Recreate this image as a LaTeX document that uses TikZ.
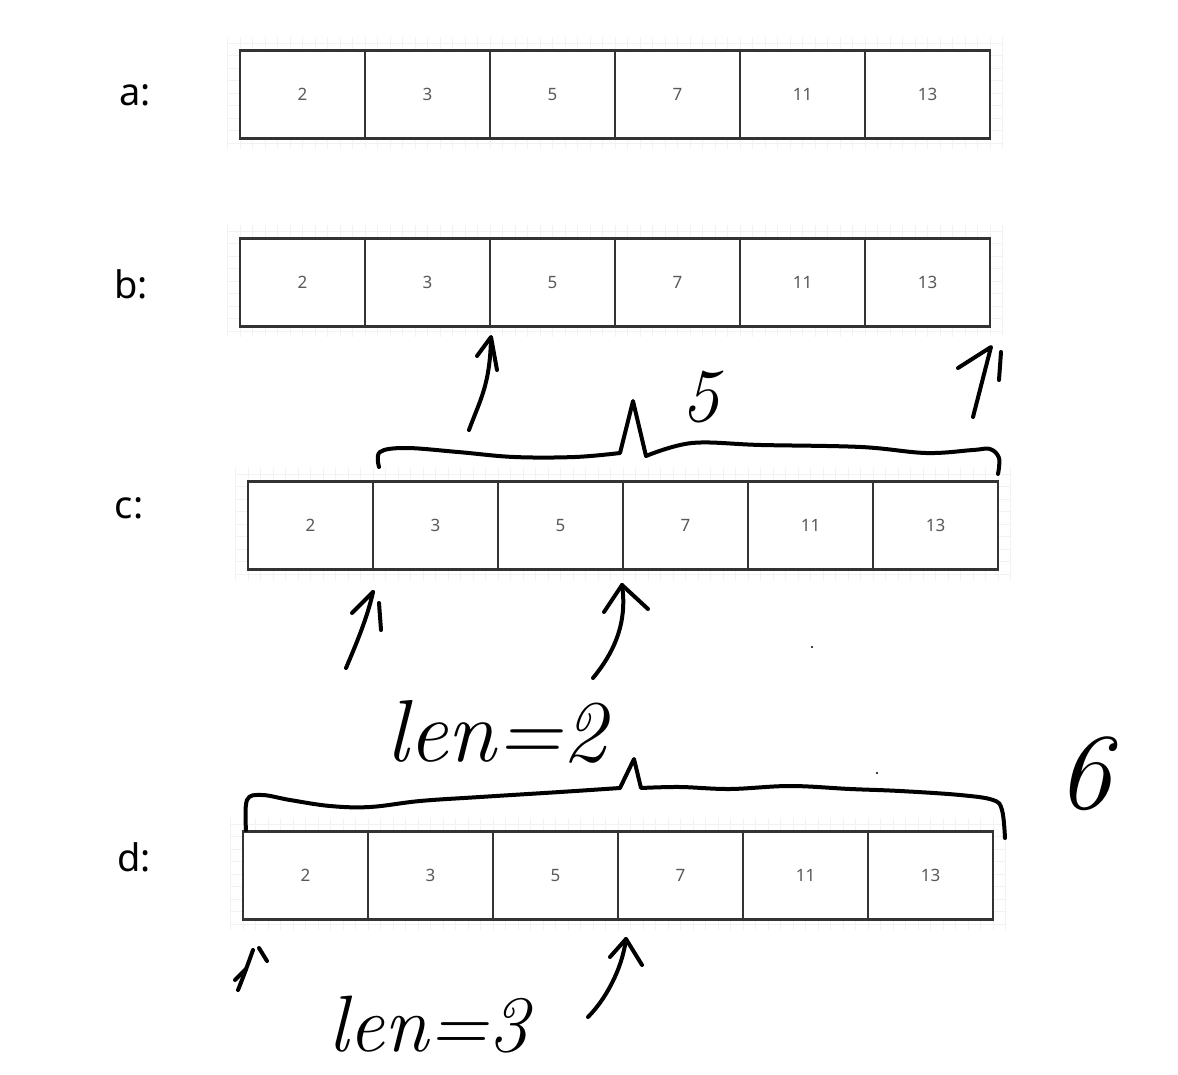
\documentclass[tikz,border=0pt]{standalone}
\usepackage{fontspec}
\setsansfont{Noto Sans}
\begin{document}
\begin{tikzpicture}[x=0.5pt, y=-0.5pt,
  cell/.style={draw=black!80, line width=1.1pt, fill=white, minimum width=62.5pt, minimum height=44pt, inner sep=0pt, font=\sffamily\fontsize{8.5}{8.5}\selectfont, text=black!65},
  lbl/.style={font=\sffamily\fontsize{19}{19}\selectfont, inner sep=0pt},
  gridline/.style={draw=black!5, line width=0.4pt},
  hand/.style={line width=2pt, line cap=round, line join=round},
  note/.style={font=\itshape\fontsize{44}{44}\selectfont, inner sep=0pt}]
\useasboundingbox (0,0) rectangle (1178,1075);
% the four arrays
\foreach \r/\x/\y/\lx/\ly in {a/240/93/135/95, b/240/281/131/284, c/248/524/129/508, d/243/874/134/857} {
  \foreach \k in {-1,...,61} \draw[gridline] (\x+12.5*\k,\y-56) -- (\x+12.5*\k,\y+56);
  \foreach \k in {-4,...,4} \draw[gridline] (\x-12,\y+12.5*\k) -- (\x+762,\y+12.5*\k);
  \foreach \v [count=\i] in {2,3,5,7,11,13}
    \node[cell] (\r\i) at (\x+125*\i-62.5,\y+1.5) {\v};
  \node[lbl] (\r0) at (\lx,\ly) {\r:};
}
% notes under b
\draw[hand] (469,430) .. controls (480,400) and (490,385) .. (491,338);
\draw[hand] (477,356) -- (491,337) -- (497,370);
\draw[hand] (958,368) -- (991,347) -- (973,417);
\draw[hand] (1001,352) -- (999,380);
\draw[hand] plot[smooth, tension=0.6] coordinates {(379,467) (380,452) (406,448) (458,452) (514,457) (575,457) (620,453)}
  -- (633,401) -- (646,456)
  -- plot[smooth, tension=0.6] coordinates {(646,456) (692,443) (761,445) (861,447) (926,453) (973,450) (990,449) (999,458) (998,474)};
\node[note, font=\itshape\fontsize{38}{38}\selectfont] (five) at (700,397) {5};
% notes under c
\draw[hand] (346,668) .. controls (358,640) and (368,615) .. (373,592);
\draw[hand] (352,613) -- (373,592);
\draw[hand] (379,603) -- (381,630);
\draw[hand] (593,678) .. controls (612,655) and (628,625) .. (622,585);
\draw[hand] (604,612) -- (622,585) -- (648,609);
\node[note] (len2) at (496,732) {len=2};
\fill (812,647) circle (1.2) (877,773) circle (1.2);
\draw[hand] plot[smooth, tension=0.6] coordinates {(246,830) (247,800) (262,795) (290,800) (330,806) (370,807) (420,801) (480,797) (560,792) (620,788)}
  -- (634,759) -- (641,788)
  -- plot[smooth, tension=0.6] coordinates {(641,788) (680,787) (730,789) (790,786) (850,789) (900,791) (960,795) (993,800) (1002,810) (1005,838)};
\node[note, font=\itshape\fontsize{54}{54}\selectfont] (six) at (1084,774) {6};
% notes under d
\draw[hand] (238,990) .. controls (244,975) .. (253,950);
\draw[hand] (235,980) -- (246,969);
\draw[hand] (259,948) -- (267,961);
\draw[hand] (588,1017) .. controls (605,1000) and (622,970) .. (626,939);
\draw[hand] (610,957) -- (626,939) -- (642,965);
\node[note, font=\itshape\fontsize{40}{40}\selectfont] (len3) at (428,1025) {len=3};
\end{tikzpicture}
\end{document}
